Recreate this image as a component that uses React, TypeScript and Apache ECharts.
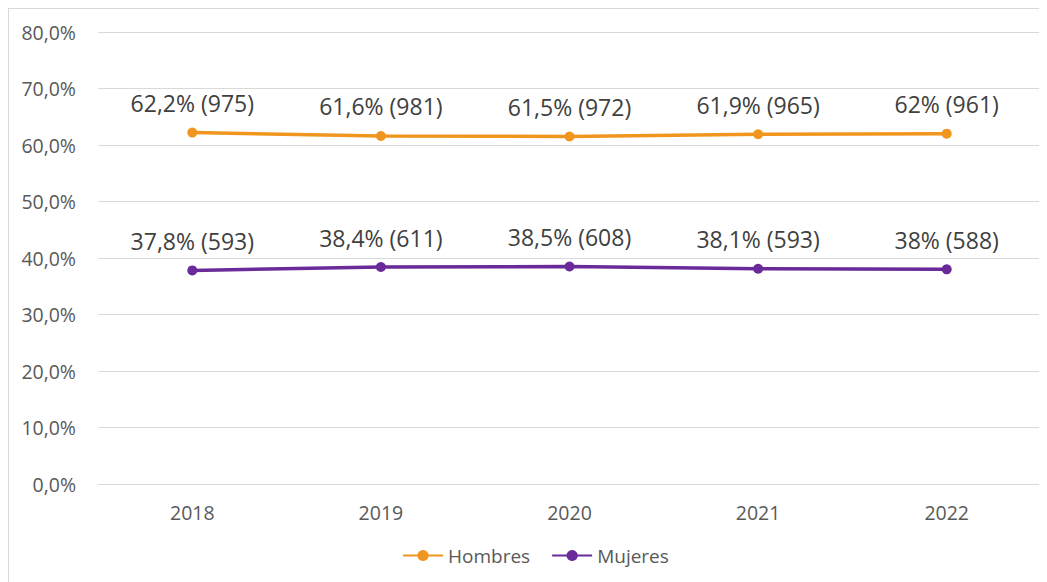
import React, { useEffect, useRef } from "react";
import * as echarts from "echarts";

const categories = ["2018", "2019", "2020", "2021", "2022"];
const hombresPct = [62.2, 61.6, 61.5, 61.9, 62.0];
const hombresN = [975, 981, 972, 965, 961];
const mujeresPct = [37.8, 38.4, 38.5, 38.1, 38.0];
const mujeresN = [593, 611, 608, 593, 588];
const yTicks = { min: 0, max: 80, interval: 10 };

const FONT = "'Open Sans', sans-serif";
const fmtNum = (v: number) => String(v).replace(".", ",");

export default function App() {
  const ref = useRef<HTMLDivElement>(null);
  useEffect(() => {
    if (!ref.current) return;
    const chart = echarts.init(ref.current, undefined, { renderer: "svg" });
    const mkSeries = (name: string, pct: number[], n: number[], color: string) => ({
      name,
      type: "line",
      data: pct,
      symbol: "circle",
      symbolSize: 10,
      lineStyle: { color, width: 3.5 },
      itemStyle: { color },
      label: {
        show: true,
        position: "top",
        distance: 13,
        color: "#404040",
        fontFamily: FONT,
        fontSize: 23,
        formatter: (p: any) => `${fmtNum(p.value)}% (${n[p.dataIndex]})`,
      },
    });
    chart.setOption({
      animation: false,
      textStyle: { fontFamily: FONT },
      grid: { left: 89, top: 23, right: 6, bottom: 98, containLabel: false },
      legend: {
        left: 388,
        top: 532,
        itemWidth: 40,
        itemHeight: 14,
        itemGap: 21,
        textStyle: { color: "#595959", fontSize: 19, fontFamily: FONT },
        data: ["Hombres", "Mujeres"],
      },
      xAxis: {
        type: "category",
        data: categories,
        boundaryGap: true,
        axisLine: { show: true, lineStyle: { color: "#d9d9d9", width: 1 } },
        axisTick: { show: false },
        axisLabel: { color: "#595959", fontSize: 19.5, fontFamily: FONT, margin: 18 },
      },
      yAxis: {
        type: "value",
        min: yTicks.min,
        max: yTicks.max,
        interval: yTicks.interval,
        axisLine: { show: false },
        axisTick: { show: false },
        splitLine: { lineStyle: { color: "#d9d9d9", width: 1 } },
        axisLabel: {
          color: "#595959",
          fontSize: 19.5,
          fontFamily: FONT,
          margin: 22,
          formatter: (v: number) => `${v.toFixed(1).replace(".", ",")}%`,
        },
      },
      series: [
        mkSeries("Hombres", hombresPct, hombresN, "#F0961E"),
        mkSeries("Mujeres", mujeresPct, mujeresN, "#6A2A9A"),
      ],
    });
    return () => chart.dispose();
  }, []);
  return (
    <div
      ref={ref}
      style={{
        width: 1038,
        height: 573,
        borderLeft: "1px solid #d9d9d9",
        borderTop: "1px solid #d9d9d9",
        background: "#fff",
      }}
    />
  );
}
